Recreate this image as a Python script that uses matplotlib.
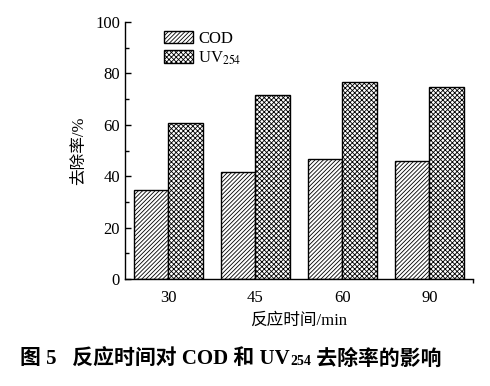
import numpy as np
import matplotlib
matplotlib.use("Agg")
import matplotlib.pyplot as plt
from matplotlib.ticker import MultipleLocator, FixedLocator

plt.rcParams['font.family'] = ['Liberation Serif', 'Noto Sans CJK SC']
plt.rcParams['mathtext.fontset'] = 'stix'
plt.rcParams['hatch.linewidth'] = 0.6

# data
times = ['30', '45', '60', '90']
cod = [34.5, 41.5, 46.6, 45.8]
uv254 = [60.6, 71.5, 76.7, 74.6]
yticks = [0, 20, 40, 60, 80, 100]

fig = plt.figure(figsize=(4.9, 3.86), dpi=100)
ax = fig.add_axes([0.255, 0.277, 0.71, 0.666])

x = np.arange(len(times))
w = 0.4
ax.bar(x - w / 2, cod, w, facecolor='white', edgecolor='black', hatch='////////', linewidth=1.0, label='COD')
ax.bar(x + w / 2, uv254, w, facecolor='white', edgecolor='black', hatch='xxxxxxx', linewidth=1.0, label='UV$_{254}$')

ax.set_xlim(-0.5, 3.5)
ax.set_ylim(0, 100)
ax.set_xticks(x)
ax.set_xticklabels(times)
ax.set_yticks(yticks)
ax.yaxis.set_minor_locator(MultipleLocator(10))
ax.xaxis.set_minor_locator(FixedLocator([3.5]))
ax.tick_params(axis='y', which='both', direction='in', labelsize=12, width=1)
ax.tick_params(axis='y', which='major', length=4)
ax.tick_params(axis='y', which='minor', length=3)
ax.tick_params(axis='x', which='major', length=0, labelsize=12, pad=8)
ax.tick_params(axis='x', which='minor', direction='out', length=3, width=1)
for s in ['top', 'right']:
    ax.spines[s].set_visible(False)
for s in ['left', 'bottom']:
    ax.spines[s].set_linewidth(1.0)

ax.set_ylabel('去除率/%', fontsize=12, labelpad=6)
ax.set_xlabel('反应时间/min', fontsize=12, labelpad=5)

ax.legend(loc='upper left', bbox_to_anchor=(0.07, 1.025), frameon=False, fontsize=12,
          handlelength=1.75, handleheight=0.8, handletextpad=0.3, labelspacing=0.15)

# caption with smaller "254"
t1 = fig.text(0.04, 0.055, '图 5   反应时间对 COD 和 UV', fontsize=15, fontweight='bold', va='baseline')
t2 = fig.text(0, 0, '254', fontsize=10, fontweight='bold', va='baseline',
              transform=None)
fig.canvas.draw()
bb = t1.get_window_extent()
base = t1.get_transform().transform(t1.get_position())[1]
t2.set_position((bb.x1 + 1, base))
fig.canvas.draw()
bb2 = t2.get_window_extent()
t3 = fig.text(0, 0, ' 去除率的影响', fontsize=15, fontweight='bold', va='baseline', transform=None)
t3.set_position((bb2.x1, base))

fig.savefig('out.png', dpi=100)
